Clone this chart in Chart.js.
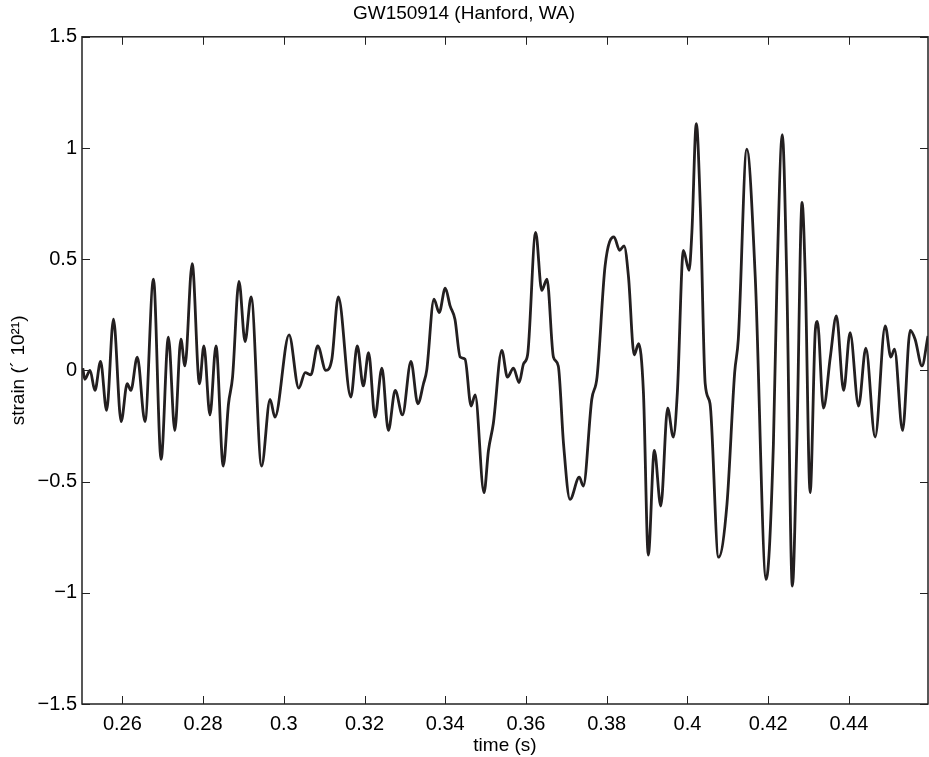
<!DOCTYPE html>
<html lang="en">
<head>
  <meta charset="UTF-8" />
  <title>GW150914 (Hanford, WA)</title>
  <script src="https://cdn.jsdelivr.net/npm/chart.js"></script>
  <style>
    html, body { margin: 0; padding: 0; background: #fff; }
    #strainChart { display: block; }
  </style>
</head>
<body>
  <canvas id="strainChart" width="929" height="757"></canvas>

  <script>
    // time samples (s)
    const times = [
      0.2502, 0.2507, 0.2520, 0.2532, 0.2546, 0.2561, 0.2578, 0.2597, 0.2612, 0.2621,
      0.2637, 0.2656, 0.2677, 0.2696, 0.2714, 0.2730, 0.2745, 0.2755, 0.2773, 0.2791,
      0.2802, 0.2817, 0.2832, 0.2850, 0.2863, 0.2873, 0.2889, 0.2904, 0.2919, 0.2945,
      0.2966, 0.2978, 0.3013, 0.3037, 0.3053, 0.3067, 0.3084, 0.3104, 0.3119, 0.3135,
      0.3166, 0.3182, 0.3197, 0.3210, 0.3226, 0.3243, 0.3259, 0.3276, 0.3294, 0.3315,
      0.3332, 0.3346, 0.3354, 0.3372, 0.3385, 0.3400, 0.3412, 0.3424, 0.3437, 0.3449,
      0.3464, 0.3474, 0.3496, 0.3507, 0.3519, 0.3540, 0.3554, 0.3569, 0.3583, 0.3594,
      0.3604, 0.3624, 0.3639, 0.3652, 0.3668, 0.3680, 0.3693, 0.3709, 0.3732, 0.3742,
      0.3763, 0.3776, 0.3796, 0.3818, 0.3832, 0.3843, 0.3854, 0.3868, 0.3879, 0.3891,
      0.3903, 0.3918, 0.3934, 0.3951, 0.3965, 0.3975, 0.3990, 0.4004, 0.4011, 0.4022,
      0.4032, 0.4044, 0.4056, 0.4077, 0.4098, 0.4117, 0.4126, 0.4147, 0.4168, 0.4195,
      0.4213, 0.4222, 0.4235, 0.4246, 0.4260, 0.4271, 0.4284, 0.4292, 0.4304, 0.4317,
      0.4322, 0.4337, 0.4354, 0.4369, 0.4387, 0.4403, 0.4424, 0.4442, 0.4465, 0.4490,
      0.4504, 0.4513, 0.4533, 0.4552, 0.4564, 0.4581, 0.4596
    ];

    // strain (x 1e-21) at those times
    const strain = [
      0.01, -0.04, 0.00, -0.09, 0.04, -0.18, 0.23, -0.23, -0.06, -0.09,
      0.06, -0.23, 0.41, -0.40, 0.15, -0.27, 0.14, 0.02, 0.48, -0.06,
      0.11, -0.20, 0.11, -0.43, -0.15, -0.03, 0.40, 0.13, 0.33, -0.43,
      -0.13, -0.21, 0.16, -0.08, -0.01, -0.02, 0.11, 0.00, 0.05, 0.33,
      -0.12, 0.11, -0.07, 0.08, -0.21, 0.01, -0.27, -0.09, -0.20, 0.04,
      -0.15, -0.06, 0.00, 0.32, 0.26, 0.37, 0.29, 0.23, 0.06, 0.05,
      -0.16, -0.11, -0.55, -0.36, -0.24, 0.09, -0.03, 0.01, -0.055, 0.03,
      0.07, 0.62, 0.36, 0.41, 0.06, 0.02, -0.33, -0.58, -0.48, -0.52,
      -0.13, -0.03, 0.47, 0.60, 0.54, 0.56, 0.42, 0.07, 0.12, -0.10,
      -0.83, -0.36, -0.61, -0.17, -0.30, -0.10, 0.54, 0.45, 0.62, 1.11,
      0.73, -0.06, -0.15, -0.84, -0.60, -0.01, 0.14, 0.995, 0.42, -0.94,
      -0.33, 0.42, 1.06, 0.42, -0.97, -0.33, 0.755, 0.42, -0.55, 0.185,
      0.22, -0.17, 0.06, 0.245, -0.09, 0.17, -0.16, 0.10, -0.30, 0.20,
      0.06, 0.095, -0.27, 0.18, 0.14, 0.02, 0.155
    ];

    const xTicks = [0.26, 0.28, 0.30, 0.32, 0.34, 0.36, 0.38, 0.40, 0.42, 0.44];
    const yTicks = [-1.5, -1, -0.5, 0, 0.5, 1, 1.5];

    const FONT = "'Liberation Sans', Arial, Helvetica, sans-serif";

    function fmt(v) {
      return String(Number(v.toFixed(2))).replace('-', '\u2212');
    }

    // matlab style box with inward ticks
    const boxPlugin = {
      id: 'matlabBox',
      afterDraw(chart) {
        const { ctx, chartArea: a, scales } = chart;
        const len = 8;
        ctx.save();
        ctx.strokeStyle = '#222';
        ctx.lineWidth = 1.5;
        ctx.strokeRect(a.left, a.top, a.right - a.left, a.bottom - a.top);
        ctx.beginPath();
        xTicks.forEach(v => {
          const px = Math.round(scales.x.getPixelForValue(v)) + 0.5;
          ctx.moveTo(px, a.bottom); ctx.lineTo(px, a.bottom - len);
          ctx.moveTo(px, a.top); ctx.lineTo(px, a.top + len);
        });
        yTicks.forEach(v => {
          const py = Math.round(scales.y.getPixelForValue(v)) + 0.5;
          ctx.moveTo(a.left, py); ctx.lineTo(a.left + len, py);
          ctx.moveTo(a.right, py); ctx.lineTo(a.right - len, py);
        });
        ctx.lineWidth = 1;
        ctx.stroke();
        ctx.restore();
      }
    };

    new Chart(document.getElementById('strainChart'), {
      type: 'line',
      data: {
        datasets: [{
          data: times.map((t, i) => ({ x: t, y: strain[i] })),
          borderColor: '#231f20',
          borderWidth: 2.8,
          pointRadius: 0,
          fill: false,
          cubicInterpolationMode: 'monotone'
        }]
      },
      options: {
        responsive: false,
        animation: false,
        layout: { padding: { left: 0, right: 1, top: 0, bottom: 0 } },
        plugins: {
          legend: { display: false },
          tooltip: { enabled: false },
          title: {
            display: true,
            text: 'GW150914 (Hanford, WA)',
            color: '#000',
            font: { family: FONT, size: 19, weight: 'normal' },
            padding: { top: 2, bottom: 12 }
          }
        },
        scales: {
          x: {
            type: 'linear',
            min: 0.25,
            max: 0.4596,
            grid: { display: false, drawTicks: false },
            border: { display: false },
            afterBuildTicks: s => { s.ticks = xTicks.map(v => ({ value: v })); },
            afterFit: s => { s.height = 53; },
            ticks: {
              color: '#000',
              padding: 8,
              maxRotation: 0,
              autoSkip: false,
              font: { family: FONT, size: 20 },
              callback: v => fmt(v)
            },
            title: {
              display: true,
              text: 'time (s)',
              color: '#000',
              font: { family: FONT, size: 19 },
              padding: { top: 0, bottom: 0 }
            }
          },
          y: {
            min: -1.5,
            max: 1.5,
            grid: { display: false, drawTicks: false },
            border: { display: false },
            afterBuildTicks: s => { s.ticks = yTicks.map(v => ({ value: v })); },
            afterFit: s => { s.width = 82; },
            ticks: {
              color: '#000',
              padding: 5,
              font: { family: FONT, size: 20 },
              callback: v => fmt(v)
            },
            title: {
              display: true,
              text: 'strain (\u00b4 10\u00b2\u00b9)',
              color: '#000',
              font: { family: FONT, size: 19 },
              padding: { top: 7, bottom: 0 }
            }
          }
        }
      },
      plugins: [boxPlugin]
    });
  </script>
</body>
</html>
